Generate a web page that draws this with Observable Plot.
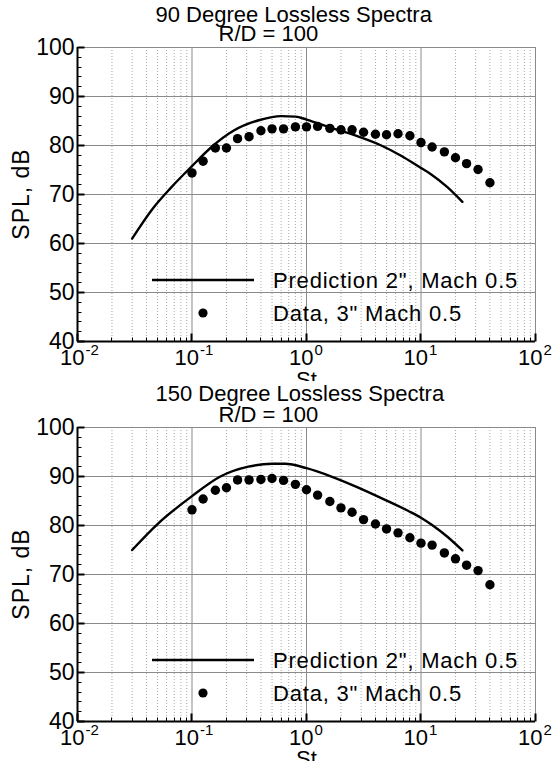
<!DOCTYPE html>
<html>
<head>
<meta charset="utf-8">
<script src="https://cdn.jsdelivr.net/npm/d3@7"></script>
<script src="https://cdn.jsdelivr.net/npm/@observablehq/plot@0.6"></script>
<style>
  body { margin: 0; background: #fff; }
  #chart { width: 556px; height: 761px; overflow: hidden; background: #fff; }
  #chart svg { display: block; overflow: hidden; }
</style>
</head>
<body>
<div id="chart"></div>
<script>
// One-third-octave band centre Strouhal numbers of the measured spectra
const bandSt = [0.1, 0.125, 0.16, 0.2, 0.25, 0.315, 0.4, 0.5, 0.63, 0.8, 1, 1.25, 1.6, 2, 2.5, 3.15, 4, 5, 6.3, 8, 10, 12.5, 16, 20, 25, 31.5, 40];

// Measured SPL (dB), 3" nozzle, Mach 0.5
const data90 = [74.4, 76.8, 79.5, 79.5, 81.4, 81.8, 83.0, 83.4, 83.4, 83.8, 83.8, 83.9, 83.5, 83.2, 83.2, 82.7, 82.3, 82.2, 82.4, 82.0, 80.6, 79.7, 78.7, 77.5, 76.3, 75.1, 72.4];
const data150 = [83.2, 85.4, 87.2, 87.7, 89.3, 89.3, 89.4, 89.6, 89.2, 88.4, 87.3, 86.2, 84.9, 83.6, 82.7, 81.2, 80.3, 79.3, 78.5, 77.5, 76.4, 76.0, 74.4, 73.2, 71.9, 70.8, 67.9];

// Predicted spectra, 2" nozzle, Mach 0.5
const pred90St = [0.03, 0.045, 0.065, 0.1, 0.15, 0.23, 0.39, 0.6, 0.8, 1.0, 1.6, 2.7, 4.4, 6.7, 10, 12.3, 17, 23];
const pred90 = [61.0, 67.0, 71.3, 75.8, 79.8, 83.0, 85.2, 86.0, 85.9, 85.3, 83.7, 82.0, 80.1, 77.9, 75.4, 74.1, 71.5, 68.5];
const pred150St = [0.03, 0.05, 0.1, 0.177, 0.31, 0.5, 0.65, 1.0, 1.65, 2.8, 4.7, 7.7, 10, 12.5, 17, 23];
const pred150 = [75.0, 80.3, 86.0, 90.0, 92.0, 92.6, 92.6, 91.7, 90.0, 87.8, 85.4, 83.0, 81.6, 80.1, 77.7, 74.9];

// Axis ticks and labels
const xDecades = [0.01, 0.1, 1, 10, 100];
const xExponents = ["-2", "-1", "0", "1", "2"];
const xMinor = [-2, -1, 0, 1].flatMap(e => [2, 3, 4, 5, 6, 7, 8, 9].map(m => m * Math.pow(10, e)));
const yMajor = [40, 50, 60, 70, 80, 90, 100];
const yMinor = d3.range(40, 101, 2).filter(v => v % 10 !== 0);

const titles = ["90 Degree Lossless Spectra", "150 Degree Lossless Spectra"];
const subtitle = "R/D = 100";
const legendLabels = ["Prediction 2\", Mach 0.5", "Data, 3\" Mach 0.5"];
const xLabel = "St";
const yLabel = "SPL, dB";

const FONT = "'Liberation Sans', Arial, Helvetica, sans-serif";

// Inward ticks along the left and bottom axes
function axisTicks(index, {x, y}, values, dims) {
  const g = d3.create("svg:g").attr("stroke", "black").attr("fill", "none");
  const left = dims.marginLeft + 0.5;
  const bottom = dims.height - dims.marginBottom + 0.5;
  for (const v of yMinor) {
    const py = Math.round(y(v)) + 0.5;
    g.append("line").attr("x1", left).attr("x2", left + 4).attr("y1", py).attr("y2", py).attr("stroke-width", 1);
  }
  for (const v of yMajor) {
    const py = Math.round(y(v)) + 0.5;
    g.append("line").attr("x1", left).attr("x2", left + 7).attr("y1", py).attr("y2", py).attr("stroke-width", 2);
  }
  for (const v of xMinor) {
    const px = Math.round(x(v)) + 0.5;
    g.append("line").attr("x1", px).attr("x2", px).attr("y1", bottom).attr("y2", bottom - 4).attr("stroke-width", 1);
  }
  for (const v of xDecades) {
    const px = Math.round(x(v)) + 0.5;
    g.append("line").attr("x1", px).attr("x2", px).attr("y1", bottom).attr("y2", bottom - 8).attr("stroke-width", 2);
  }
  return g.node();
}

// Vertical axis title, centred on the plotting frame
function yTitle(index, scales, values, dims) {
  const cy = (dims.marginTop + dims.height - dims.marginBottom) / 2;
  const t = d3.create("svg:text")
    .attr("transform", `translate(${dims.marginLeft - 48},${cy}) rotate(-90)`)
    .attr("text-anchor", "middle")
    .attr("font-size", 23)
    .attr("letter-spacing", 1)
    .attr("fill", "black")
    .text(yLabel);
  return t.node();
}

// Legend content, placed inside the plotting frame
function legend(index, scales, values, dims) {
  const g = d3.create("svg:g").attr("text-anchor", "start");
  const left = dims.marginLeft, top = dims.marginTop;
  const rowY = [top + 233, top + 266];
  g.append("line")
    .attr("x1", left + 75).attr("x2", left + 177)
    .attr("y1", rowY[0]).attr("y2", rowY[0])
    .attr("stroke", "black").attr("stroke-width", 2.4);
  g.append("circle")
    .attr("cx", left + 126).attr("cy", rowY[1]).attr("r", 4.6)
    .attr("fill", "black");
  legendLabels.forEach((label, i) => {
    g.append("text")
      .attr("x", left + 196).attr("y", rowY[i]).attr("dy", "0.35em")
      .attr("font-size", 22).attr("letter-spacing", 0.8)
      .attr("fill", "black")
      .text(label);
  });
  return g.node();
}

function panel({title, predSt, pred, data, height, marginTop, marginBottom, labelDy, titleDy}) {
  const predRows = predSt.map((s, i) => ({St: s, SPL: pred[i]}));
  const dataRows = bandSt.map((s, i) => ({St: s, SPL: data[i]}));
  return Plot.plot({
    width: 556,
    height,
    marginLeft: 77,
    marginRight: 21,
    marginTop,
    marginBottom,
    style: {fontFamily: FONT, background: "white", color: "black", overflow: "hidden"},
    x: {type: "log", domain: [0.01, 100], axis: null},
    y: {domain: [40, 100]},
    marks: [
      // grid
      Plot.ruleX(xMinor, {stroke: "#a8a8a8", strokeDasharray: "1 2", strokeWidth: 1}),
      Plot.ruleX(xDecades, {stroke: "#8a8a8a", strokeWidth: 1}),
      Plot.ruleY(yMajor, {stroke: "#8a8a8a", strokeWidth: 1}),
      // axis lines
      Plot.ruleX([0.01], {stroke: "black", strokeWidth: 2}),
      Plot.ruleY([40], {stroke: "black", strokeWidth: 2}),
      axisTicks,
      // y tick labels
      Plot.axisY({ticks: yMajor, tickSize: 0, tickPadding: 3, fontSize: 23, letterSpacing: 1.5, label: null, tickFormat: d => String(d)}),
      // x tick labels: 10 with a raised exponent
      Plot.text(xDecades, {x: d => d, text: () => "10", frameAnchor: "bottom", lineAnchor: "bottom", textAnchor: "end", dx: 7, dy: 23, fontSize: 22}),
      Plot.text(xDecades, {x: d => d, text: (d, i) => xExponents[i], frameAnchor: "bottom", lineAnchor: "bottom", textAnchor: "start", dx: 8, dy: 13, fontSize: 15}),
      // axis titles
      Plot.text([xLabel], {text: d => d, frameAnchor: "bottom", lineAnchor: "bottom", dy: labelDy, fontSize: 22}),
      yTitle,
      // panel titles
      Plot.text([title], {text: d => d, frameAnchor: "top-left", textAnchor: "start", lineAnchor: "bottom", dx: 78, dy: titleDy[0], fontSize: 22, letterSpacing: 1.1}),
      Plot.text([subtitle], {text: d => d, frameAnchor: "top-left", textAnchor: "start", lineAnchor: "bottom", dx: 141, dy: titleDy[1], fontSize: 22, letterSpacing: 1.3}),
      // data
      Plot.line(predRows, {x: "St", y: "SPL", stroke: "black", strokeWidth: 2.4, curve: "monotone-x"}),
      Plot.dot(dataRows, {x: "St", y: "SPL", r: 4.7, fill: "black", stroke: "none"}),
      legend
    ]
  });
}

const chart = document.getElementById("chart");
chart.append(panel({title: titles[0], predSt: pred90St, pred: pred90, data: data90, height: 381, marginTop: 47, marginBottom: 40, labelDy: 45, titleDy: [-26, -7]}));
chart.append(panel({title: titles[1], predSt: pred150St, pred: pred150, data: data150, height: 380, marginTop: 46, marginBottom: 40, labelDy: 44, titleDy: [-27, -6]}));
</script>
</body>
</html>
